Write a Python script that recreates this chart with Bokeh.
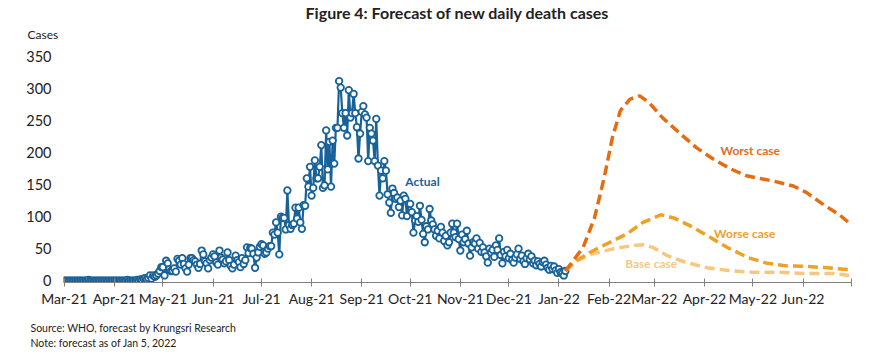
import pandas as pd
from bokeh.plotting import figure
from bokeh.models import (ColumnDataSource, CustomJSTickFormatter, MonthsTicker, Label, Range1d, Title)
from bokeh.embed import file_html
from bokeh.resources import INLINE

# ---------------- data ----------------
mar21 = [0, 0, 0, 0, 0, 0, 0, 0, 0, 0, 0, 0, 0, 0, 0, 1, 0, 0, 0, 0, 0, 0, 0, 0, 0, 0, 0, 0, 0, 0, 0]
apr21 = [0, 0, 0, 0, 0, 0, 0, 0, 1, 0, 0, 0, 0, 0, 1, 0, 2, 1, 3, 4, 2, 4, 8, 3, 8, 6, 8, 11, 15, 21]
may21 = [21, 8, 31, 27, 18, 15, 15, 19, 14, 34, 31, 25, 35, 26, 19, 14, 25, 35, 35, 32, 30, 25, 20, 26, 47,
         41, 30, 27, 19, 32, 36]
jun21 = [41, 38, 28, 25, 47, 36, 33, 27, 30, 44, 32, 23, 19, 25, 39, 32, 29, 21, 35, 26, 32, 52, 43, 51, 50,
         42, 20, 36, 44, 53]
jul21 = [57, 55, 42, 44, 50, 54, 54, 75, 72, 91, 75, 41, 100, 98, 98, 80, 141, 87, 81, 87, 89, 114, 97, 114,
         91, 81, 118, 117, 160, 147, 178]
aug21 = [133, 145, 188, 160, 160, 178, 212, 145, 149, 235, 174, 217, 147, 219, 183, 239, 239, 312, 302, 262,
         239, 262, 227, 298, 255, 262, 292, 262, 240, 191, 230]
sep21 = [264, 273, 260, 255, 187, 239, 230, 219, 187, 253, 180, 133, 172, 160, 187, 172, 135, 122, 106, 144,
         137, 128, 130, 115, 125, 102, 133, 128, 101, 120]
oct21 = [120, 107, 75, 94, 101, 92, 117, 95, 73, 60, 85, 80, 112, 94, 88, 80, 70, 78, 66, 84, 75, 62, 70, 55,
         60, 75, 89, 75, 68, 89, 65]
nov21 = [47, 72, 60, 65, 78, 58, 39, 52, 60, 58, 66, 50, 59, 45, 52, 44, 38, 28, 50, 44, 48, 37, 55, 48, 66,
         40, 27, 45, 38, 48]
dec21 = [35, 42, 32, 28, 36, 41, 50, 34, 39, 30, 26, 35, 42, 33, 38, 27, 31, 24, 30, 26, 22, 29, 31, 25, 20,
         17, 23, 18, 22, 16, 12]
jan22 = [18, 13, 11, 8, 15]

actual = mar21 + apr21 + may21 + jun21 + jul21 + aug21 + sep21 + oct21 + nov21 + dec21 + jan22
actual_dates = pd.date_range("2021-03-01", periods=len(actual), freq="D")

worst_dates = ["2022-01-05", "2022-01-16", "2022-01-23", "2022-01-29", "2022-02-03", "2022-02-08",
               "2022-02-14", "2022-02-20", "2022-02-26", "2022-03-06", "2022-03-17", "2022-03-27",
               "2022-04-06", "2022-04-17", "2022-04-27", "2022-05-13", "2022-05-26", "2022-06-03",
               "2022-06-13", "2022-06-24", "2022-06-30"]
worst_vals = [15, 52, 98, 161, 223, 266, 284, 289, 278, 255, 230, 208, 191, 175, 164, 156, 148, 138, 120, 102, 89]

worse_dates = ["2022-01-05", "2022-01-10", "2022-01-20", "2022-01-31", "2022-02-12", "2022-02-22",
               "2022-03-05", "2022-03-13", "2022-03-23", "2022-04-03", "2022-04-15", "2022-04-28",
               "2022-05-10", "2022-05-22", "2022-06-04", "2022-06-16", "2022-06-30"]
worse_vals = [15, 28, 44, 58, 73, 91, 103, 98, 86, 70, 52, 36, 27, 23, 22, 20, 17]

base_dates = ["2022-01-05", "2022-01-12", "2022-01-22", "2022-02-04", "2022-02-16", "2022-02-22",
              "2022-02-28", "2022-03-09", "2022-03-21", "2022-04-03", "2022-04-15", "2022-05-01",
              "2022-05-18", "2022-06-04", "2022-06-20", "2022-06-30"]
base_vals = [15, 31, 42, 50, 55, 56, 52, 39, 28, 20, 16, 13, 13, 11, 11, 8]

month_names = ["Jan", "Feb", "Mar", "Apr", "May", "Jun", "Jul", "Aug", "Sep", "Oct", "Nov", "Dec"]

# ---------------- styling ----------------
FONT = "Lato"
BLUE = "#18629A"
WORST = "#E66C12"
WORSE = "#F0A024"
BASE = "#F7C77E"
TXT = "#222222"

x_start = pd.Timestamp("2021-03-01") - pd.Timedelta(hours=12)
x_end = pd.Timestamp("2022-07-01")

p = figure(width=870, height=359, x_axis_type="datetime", output_backend="svg", toolbar_location=None,
           x_range=Range1d(x_start, x_end), y_range=Range1d(-3, 360),
           min_border_left=63, min_border_right=19, min_border_top=50, min_border_bottom=77)
p.outline_line_color = None
p.xgrid.visible = False
p.ygrid.visible = False
p.background_fill_color = "white"
p.border_fill_color = "white"

src = ColumnDataSource(dict(x=actual_dates, y=actual))
p.line("x", "y", source=src, line_color=BLUE, line_width=2.2)
p.scatter("x", "y", source=src, size=6.5, marker="circle", fill_color="white", line_color=BLUE, line_width=1.8)

for d, v, c in [(base_dates, base_vals, BASE), (worse_dates, worse_vals, WORSE), (worst_dates, worst_vals, WORST)]:
    p.line(pd.to_datetime(d), v, line_color=c, line_width=3.5, line_dash="10 5", line_cap="butt")

# axes
p.xaxis.ticker = MonthsTicker(months=list(range(12)))
p.xaxis.formatter = CustomJSTickFormatter(args=dict(names=month_names, end=x_end.value // 10**6), code="""
    if (tick >= end - 1) { return ""; }
    const d = new Date(tick);
    return names[d.getUTCMonth()] + "-" + String(d.getUTCFullYear()).slice(2);
""")
p.xaxis.axis_line_color = "#808080"
p.xaxis.axis_line_width = 1
p.xaxis.major_tick_line_color = "#808080"
p.xaxis.major_tick_in = 4
p.xaxis.major_tick_out = 4
p.xaxis.minor_tick_line_color = None
p.xaxis.major_label_standoff = 3
p.xaxis.major_label_text_font = FONT
p.xaxis.major_label_text_font_size = "14px"
p.xaxis.major_label_text_color = TXT

p.yaxis.ticker = [0, 50, 100, 150, 200, 250, 300, 350]
p.yaxis.axis_line_color = None
p.yaxis.major_tick_line_color = None
p.yaxis.minor_tick_line_color = None
p.yaxis.major_tick_out = 0
p.yaxis.major_tick_in = 0
p.yaxis.major_label_standoff = 12
p.yaxis.major_label_text_font = FONT
p.yaxis.major_label_text_font_size = "14.5px"
p.yaxis.major_label_text_color = TXT

# titles / notes outside the frame
p.add_layout(Title(text="Cases", align="left", offset=-36, text_font=FONT, text_font_size="12px",
                   text_font_style="normal", text_color=TXT, standoff=18, padding=0), "above")
p.add_layout(Title(text="Figure 4: Forecast of new daily death cases", align="center", offset=-12,
                   text_font=FONT, text_font_size="16px", text_font_style="bold", text_color=TXT,
                   standoff=-13, padding=0), "above")
p.add_layout(Title(text="Source: WHO, forecast by Krungsri Research\nNote: forecast as of Jan 5, 2022",
                   align="left", offset=-33, text_font=FONT, text_font_size="10.5px", text_line_height=1.25,
                   text_font_style="normal", text_color=TXT, standoff=20, padding=0), "below")

def dlab(date, yv, t, color):
    p.add_layout(Label(x=pd.Timestamp(date), y=yv, text=t, text_font=FONT, text_font_size="12px",
                       text_color=color, text_font_style="bold", text_align="left", text_baseline="middle"))

dlab("2021-09-28", 155, "Actual", BLUE)
dlab("2022-04-11", 203, "Worst case", WORST)
dlab("2022-04-07", 73, "Worse case", WORSE)
dlab("2022-02-11", 27, "Base case", BASE)

open("out.html", "w").write(file_html(p, INLINE))
